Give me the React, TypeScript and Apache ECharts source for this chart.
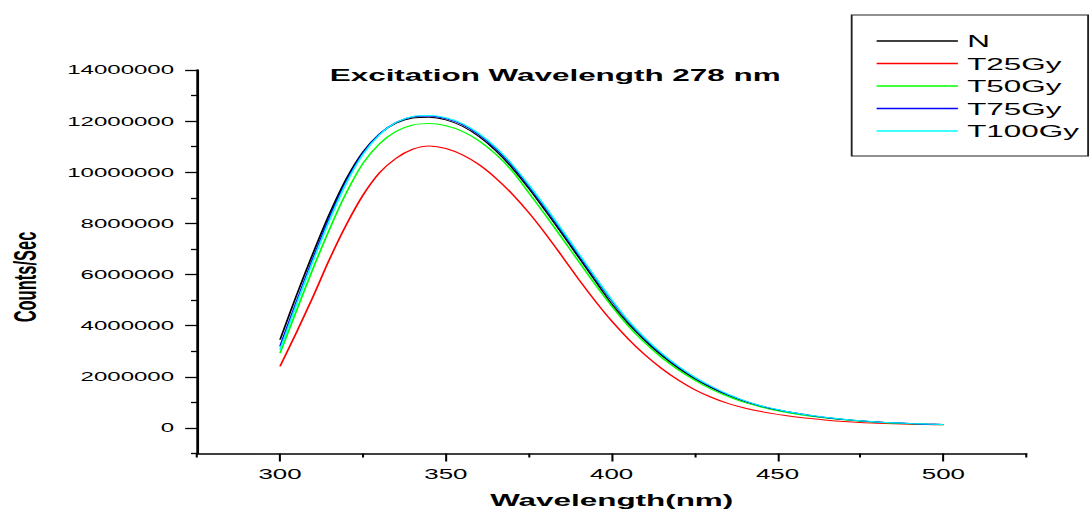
import React, { useEffect, useRef } from 'react';
import * as echarts from 'echarts';

const wavelengths = [
  300, 305, 310, 315, 320, 325, 330, 335, 340, 345, 350, 355, 360, 365, 370, 375, 380, 385, 390, 395,
  400, 405, 410, 415, 420, 425, 430, 435, 440, 445, 450, 455, 460, 465, 470, 475, 480, 485, 490, 495, 500,
];

const seriesNames = ['N', 'T25Gy', 'T50Gy', 'T75Gy', 'T100Gy'];
const seriesColors = ['#000000', '#ff0000', '#00ff00', '#0000ff', '#00ffff'];

const valuesN = [
  3450000, 5200000, 6850000, 8400000, 9750000, 10800000, 11500000, 11920000, 12120000, 12150000,
  12050000, 11800000, 11400000, 10850000, 10170000, 9370000, 8500000, 7600000, 6680000, 5760000,
  4850000, 4080000, 3420000, 2840000, 2350000, 1930000, 1580000, 1280000, 1040000, 850000,
  700000, 580000, 480000, 395000, 330000, 275000, 230000, 195000, 168000, 147000, 130000,
];
const valuesT25 = [
  2410000, 3750000, 5150000, 6620000, 7950000, 9100000, 9980000, 10550000, 10900000, 11030000,
  10930000, 10680000, 10300000, 9780000, 9150000, 8420000, 7600000, 6720000, 5820000, 4970000,
  4180000, 3480000, 2860000, 2330000, 1880000, 1500000, 1200000, 960000, 780000, 640000,
  530000, 440000, 365000, 305000, 255000, 215000, 185000, 160000, 142000, 130000, 120000,
];
const valuesT50 = [
  2930000, 4600000, 6250000, 7800000, 9200000, 10350000, 11120000, 11600000, 11850000, 11910000,
  11820000, 11600000, 11230000, 10710000, 10050000, 9200000, 8330000, 7430000, 6520000, 5620000,
  4770000, 3990000, 3330000, 2760000, 2280000, 1870000, 1520000, 1240000, 1000000, 820000,
  670000, 555000, 460000, 380000, 318000, 265000, 222000, 188000, 162000, 142000, 125000,
];
const valuesT75 = [
  3190000, 4950000, 6650000, 8250000, 9650000, 10750000, 11500000, 11950000, 12170000, 12200000,
  12100000, 11860000, 11470000, 10930000, 10260000, 9460000, 8600000, 7700000, 6780000, 5870000,
  4980000, 4170000, 3490000, 2900000, 2400000, 1970000, 1610000, 1300000, 1060000, 860000,
  710000, 590000, 490000, 402000, 335000, 280000, 234000, 198000, 170000, 148000, 131000,
];
const valuesT100 = [
  3060000, 4850000, 6550000, 8150000, 9580000, 10700000, 11470000, 11950000, 12180000, 12220000,
  12130000, 11900000, 11510000, 10980000, 10310000, 9510000, 8650000, 7750000, 6830000, 5910000,
  5020000, 4200000, 3520000, 2930000, 2420000, 1990000, 1630000, 1320000, 1070000, 870000,
  720000, 595000, 493000, 405000, 337000, 282000, 236000, 199000, 171000, 149000, 132000,
];

const xMajorTicks = [300, 350, 400, 450, 500];
const xMinorTicks = [275, 325, 375, 425, 475, 525];
const yMajorTicks = [0, 2000000, 4000000, 6000000, 8000000, 10000000, 12000000, 14000000];
const yMinorTicks = [-1000000, 1000000, 3000000, 5000000, 7000000, 9000000, 11000000, 13000000];

const titleText = 'Excitation Wavelength 278 nm';
const xTitle = 'Wavelength(nm)';
const yTitle = 'Counts/Sec';

const INNER_W = 590;
const SCALE = 1090 / INNER_W;

export default function App() {
  const ref = useRef<HTMLDivElement>(null);
  useEffect(() => {
    if (!ref.current) return;
    const chart = echarts.init(ref.current, null, { renderer: 'svg' });
    const font = 'Arial, "Liberation Sans", sans-serif';
    const allValues = [valuesN, valuesT25, valuesT50, valuesT75, valuesT100];
    const axisLineStyle = { color: '#000', width: 1.5 };
    chart.setOption({
      animation: false,
      backgroundColor: '#ffffff',
      grid: { left: 106.7, right: 34.5, top: 70, bottom: 58.5, containLabel: false, outerBoundsMode: 'none' },
      xAxis: [
        {
          type: 'value', min: 275, max: 525, position: 'bottom',
          axisLine: { show: true, onZero: false, lineStyle: axisLineStyle },
          axisTick: { show: true, length: 4, customValues: xMinorTicks, lineStyle: { color: '#000', width: 1.1 } },
          axisLabel: { show: false },
          splitLine: { show: false },
          name: xTitle, nameLocation: 'middle', nameGap: 38,
          nameTextStyle: { fontFamily: font, fontWeight: 'bold', fontSize: 17, color: '#000' },
        },
        {
          type: 'value', min: 275, max: 525, position: 'bottom', offset: 0,
          axisLine: { show: false, onZero: false },
          axisTick: { show: true, length: 8, customValues: xMajorTicks, lineStyle: { color: '#000', width: 1.1 } },
          axisLabel: { show: true, customValues: xMajorTicks, margin: 13, fontSize: 14, color: '#000', fontFamily: font, formatter: (v: number) => String(v) },
          splitLine: { show: false },
        },
      ],
      yAxis: [
        {
          type: 'value', min: -1000000, max: 14000000, position: 'left',
          axisLine: { show: true, onZero: false, lineStyle: axisLineStyle },
          axisTick: { show: true, length: 3.3, customValues: yMinorTicks, lineStyle: { color: '#000', width: 1.3 } },
          axisLabel: { show: false },
          splitLine: { show: false },
        },
        {
          type: 'value', min: -1000000, max: 14000000, position: 'left', offset: 0,
          axisLine: { show: false, onZero: false },
          axisTick: { show: true, length: 6.5, customValues: yMajorTicks, lineStyle: { color: '#000', width: 1.3 } },
          axisLabel: { show: true, customValues: yMajorTicks, margin: 12.5, fontSize: 13, color: '#000', fontFamily: font, formatter: (v: number) => String(v) },
          splitLine: { show: false },
        },
      ],
      legend: {
        show: true,
        orient: 'vertical',
        left: 461,
        top: 15,
        padding: [17.5, 5, 16.5, 13.5],
        itemWidth: 44,
        itemHeight: 1.5,
        itemGap: 5.5,
        icon: 'rect',
        selectedMode: false,
        borderColor: '#222',
        borderWidth: 1,
        borderRadius: 0,
        backgroundColor: '#ffffff',
        textStyle: { fontFamily: font, fontSize: 17, lineHeight: 17, color: '#000' },
        data: seriesNames,
      },
      graphic: [
        {
          type: 'text', x: 300.5, y: 75, z: 100,
          style: { text: titleText, font: 'bold 17px Arial, "Liberation Sans", sans-serif', fill: '#000', textAlign: 'center', textVerticalAlign: 'middle' },
        },
        {
          type: 'text', x: 13.5, y: 277, rotation: Math.PI / 2, z: 100,
          style: { text: yTitle, font: 'bold 16.5px Arial, "Liberation Sans", sans-serif', fill: '#000', textAlign: 'center', textVerticalAlign: 'middle' },
        },
      ],
      series: seriesNames.map((name, i) => ({
        name,
        type: 'line',
        xAxisIndex: 0,
        yAxisIndex: 0,
        showSymbol: false,
        symbol: 'none',
        smooth: 0.3,
        color: seriesColors[i],
        lineStyle: { color: seriesColors[i], width: 1 },
        data: wavelengths.map((w, j) => [w, allValues[i][j]]),
        z: 2 + i,
      })),
    });
    return () => chart.dispose();
  }, []);
  return (
    <div style={{ position: 'fixed', left: 0, top: 0, width: 1090, height: 512, overflow: 'hidden', background: '#ffffff' }}>
      <div
        ref={ref}
        style={{ width: INNER_W, height: 512, transform: `scaleX(${SCALE})`, transformOrigin: '0 0' }}
      />
    </div>
  );
}
